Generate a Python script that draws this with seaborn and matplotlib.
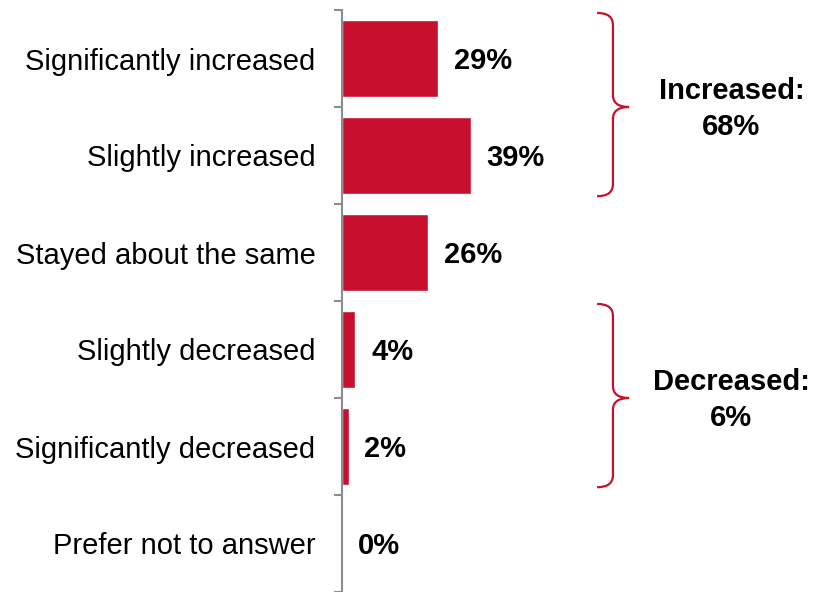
import matplotlib
matplotlib.use("Agg")
import matplotlib.pyplot as plt
import seaborn as sns
import pandas as pd
from matplotlib.path import Path
from matplotlib.patches import PathPatch
from matplotlib.ticker import FixedLocator
from matplotlib.transforms import IdentityTransform

categories = ["Significantly increased", "Slightly increased", "Stayed about the same",
              "Slightly decreased", "Significantly decreased", "Prefer not to answer"]
values = [29, 39, 26, 4, 2, 0]
value_labels = ["29%", "39%", "26%", "4%", "2%", "0%"]
group_titles = ["Increased:\n68%", "Decreased:\n6%"]
group_ranges = [(0, 1), (3, 4)]

RED = "#C8102E"
GREY = "#8C8C8C"
FS = 21

sns.set_theme(style="white")
plt.rcParams["font.family"] = ["Liberation Sans", "DejaVu Sans"]

fig = plt.figure(figsize=(8.17, 5.92), dpi=100)
W, H = 817, 592
ax = fig.add_axes([342 / W, 0.0, (W - 342) / W, (592 - 10) / H])

df = pd.DataFrame({"cat": categories, "val": values})
sns.barplot(data=df, x="val", y="cat", color=RED, saturation=1, width=0.8, ax=ax)

ax.set_xlim(0, (W - 342) / 3.3)
ax.set_ylim(len(categories) - 0.5, -0.5)
ax.set_xlabel("")
ax.set_ylabel("")
ax.set_xticks([])
for s in ["top", "right", "bottom"]:
    ax.spines[s].set_visible(False)
ax.spines["left"].set_color(GREY)
ax.spines["left"].set_linewidth(1.5)
ax.yaxis.set_minor_locator(FixedLocator([i - 0.5 for i in range(len(categories) + 1)]))
ax.tick_params(axis="y", which="major", length=0, pad=19, labelsize=FS, labelcolor="black")
ax.tick_params(axis="y", which="minor", length=6, width=1.5, color=GREY, left=True)

for i, (v, lab) in enumerate(zip(values, value_labels)):
    ax.text(v + 4.8, i + 0.03, lab, va="center", ha="left", fontsize=FS, fontweight="bold", color="black")

def brace(ax, y0, y1, ytip, x_left, x_mid, x_tip):
    T = ax.transData
    (xl, yt) = T.transform((x_left, y0))
    (xm, _) = T.transform((x_mid, y0))
    (xt, ym) = T.transform((x_tip, ytip))
    (_, yb) = T.transform((x_left, y1))
    r = 12
    verts = [(xl, yt), (xm, yt), (xm, yt - r),
             (xm, ym + r), (xm, ym), (xt, ym),
             (xm, ym), (xm, ym - r),
             (xm, yb + r), (xm, yb), (xl, yb)]
    codes = [Path.MOVETO, Path.CURVE3, Path.CURVE3,
             Path.LINETO, Path.CURVE3, Path.CURVE3,
             Path.CURVE3, Path.CURVE3,
             Path.LINETO, Path.CURVE3, Path.CURVE3]
    p = PathPatch(Path(verts, codes), transform=IdentityTransform(), fill=False,
                  edgecolor=RED, linewidth=1.6, clip_on=False)
    fig.add_artist(p)

for (a, b), title in zip(group_ranges, group_titles):
    y0 = a - 0.47
    y1 = b + 0.42
    ytip = (a + b) / 2
    brace(ax, y0, y1, ytip, 77.3, 82.1, 87.0)
    ax.text(118, ytip + 0.02, title, ha="center", va="center", fontsize=FS, fontweight="bold",
            color="black", linespacing=1.4)

fig.savefig("out.png", dpi=100)
